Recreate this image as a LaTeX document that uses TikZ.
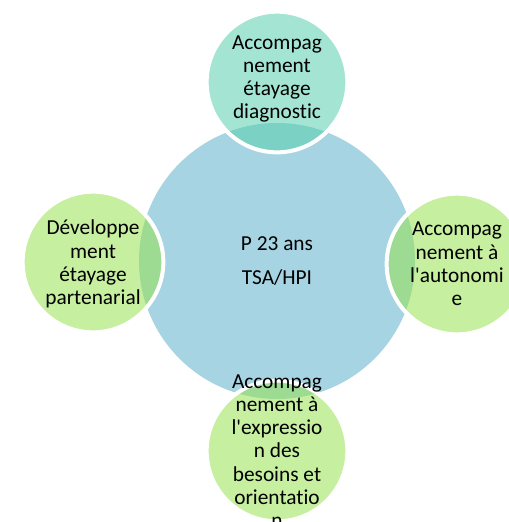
\documentclass[tikz,border=0pt]{standalone}
\usepackage{fontspec}
\setmainfont{Carlito}[Ligatures={TeXOff,CommonOff}]
\definecolor{hubblue}{RGB}{166,212,226}
\definecolor{satteal}{RGB}{87,207,173}
\definecolor{satgreen}{RGB}{151,225,82}

\begin{document}
\begin{tikzpicture}
  [x=0.75pt,y=-0.75pt,
   every node/.style={circle,inner sep=0pt},
   hub/.style={fill=hubblue,minimum size=207pt},
   sat/.style={draw=white,line width=3pt,fill opacity=.55,minimum size=105.5pt},
   txt/.style={rectangle,align=center,font=\fontsize{16}{17.4}\selectfont}]
  \useasboundingbox (0,0) rectangle (508,522);
  \node[hub] (c) at (277,261) {};
  \node[sat,fill=satteal] (n1) at (277,82) {};
  \node[sat,fill=satgreen] (n2) at (457,264) {};
  \node[sat,fill=satgreen] (n3) at (277,451) {};
  \node[sat,fill=satgreen] (n4) at (93,262) {};

  \node[txt] (tc) at (c) {P 23 ans\\[8.4pt]TSA/HPI};
  \node[txt] (t1) at (277,79) {Accompag\\nement\\étayage\\diagnostic};
  \node[txt] (t2) at (n2) {Accompag\\nement à\\l'autonomi\\e};
  \node[txt] (t3) at (n3) {Accompag\\nement à\\l'expressio\\n des\\besoins et\\orientatio\\n};
  \node[txt] (t4) at (93,264) {Développe\\ment\\étayage\\partenarial};
\end{tikzpicture}
\end{document}
